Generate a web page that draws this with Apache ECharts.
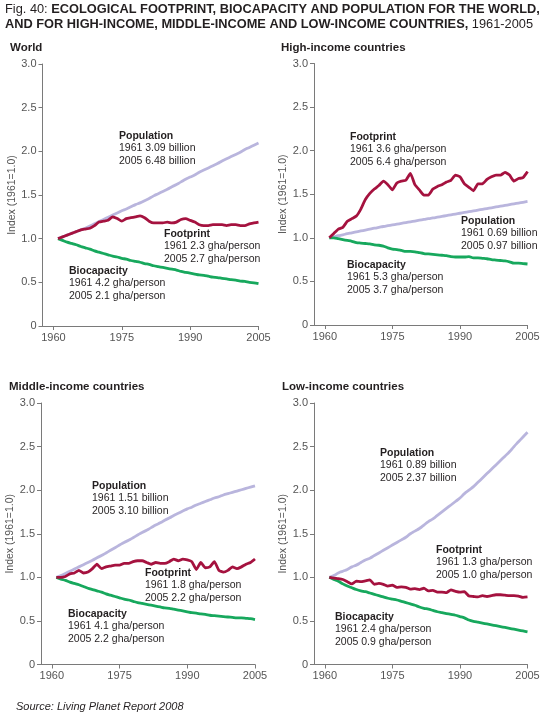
<!DOCTYPE html>
<html>
<head>
<meta charset="utf-8">
<title>Ecological footprint, biocapacity and population</title>
<script src="https://cdn.jsdelivr.net/npm/echarts@6.0.0/dist/echarts.min.js"></script>
<style>
  html, body { margin: 0; padding: 0; background: #fff; }
  #chart { width: 550px; height: 718px; }
</style>
</head>
<body>
<div id="chart"></div>
<script>
// years 1961-2005, one value per year in every series
var years = [];
for (var yr = 1961; yr <= 2005; yr++) years.push(yr);
var xTicks = [1960, 1975, 1990, 2005];

// World
var worldPopulation = [1.00, 1.02, 1.04, 1.06, 1.08, 1.10, 1.12, 1.145, 1.17, 1.195,
  1.22, 1.245, 1.27, 1.295, 1.32, 1.34, 1.365, 1.39, 1.41, 1.435,
  1.46, 1.49, 1.515, 1.54, 1.565, 1.595, 1.62, 1.65, 1.68, 1.705,
  1.73, 1.76, 1.785, 1.81, 1.835, 1.86, 1.89, 1.915, 1.94, 1.965,
  1.99, 2.02, 2.045, 2.07, 2.095];
var worldFootprint = [1.00, 1.02, 1.04, 1.06, 1.08, 1.10, 1.11, 1.12, 1.15, 1.19,
  1.20, 1.21, 1.25, 1.23, 1.20, 1.23, 1.24, 1.25, 1.26, 1.24,
  1.20, 1.18, 1.18, 1.18, 1.19, 1.18, 1.19, 1.22, 1.23, 1.21,
  1.19, 1.16, 1.15, 1.15, 1.16, 1.16, 1.16, 1.15, 1.16, 1.16,
  1.15, 1.15, 1.17, 1.18, 1.19];
var worldBiocapacity = [1.00, 0.98, 0.96, 0.945, 0.93, 0.91, 0.895, 0.88, 0.86, 0.845,
  0.83, 0.815, 0.80, 0.79, 0.775, 0.765, 0.75, 0.74, 0.73, 0.715,
  0.705, 0.69, 0.68, 0.67, 0.66, 0.65, 0.64, 0.625, 0.615, 0.605,
  0.595, 0.585, 0.58, 0.57, 0.56, 0.555, 0.545, 0.54, 0.53, 0.525,
  0.515, 0.51, 0.50, 0.495, 0.485];

// High-income countries
var highPopulation = [1.00, 1.012, 1.024, 1.035, 1.047, 1.058, 1.069, 1.079, 1.089, 1.099,
  1.11, 1.12, 1.13, 1.139, 1.148, 1.157, 1.166, 1.175, 1.184, 1.193,
  1.202, 1.211, 1.22, 1.228, 1.237, 1.246, 1.255, 1.264, 1.273, 1.282,
  1.291, 1.30, 1.309, 1.318, 1.327, 1.336, 1.345, 1.354, 1.363, 1.372,
  1.381, 1.39, 1.399, 1.408, 1.417];
var highFootprint = [1.00, 1.05, 1.10, 1.12, 1.19, 1.22, 1.25, 1.33, 1.44, 1.51,
  1.56, 1.60, 1.65, 1.61, 1.55, 1.63, 1.65, 1.66, 1.74, 1.61,
  1.55, 1.49, 1.49, 1.56, 1.59, 1.61, 1.64, 1.66, 1.72, 1.70,
  1.62, 1.58, 1.54, 1.62, 1.62, 1.67, 1.70, 1.72, 1.72, 1.75,
  1.72, 1.65, 1.68, 1.69, 1.76];
var highBiocapacity = [1.00, 1.00, 0.99, 0.98, 0.97, 0.96, 0.945, 0.94, 0.935, 0.93,
  0.92, 0.915, 0.905, 0.885, 0.87, 0.865, 0.855, 0.845, 0.845, 0.84,
  0.83, 0.82, 0.815, 0.81, 0.805, 0.80, 0.795, 0.785, 0.78, 0.78,
  0.78, 0.785, 0.77, 0.77, 0.765, 0.76, 0.75, 0.745, 0.74, 0.735,
  0.725, 0.71, 0.71, 0.705, 0.70];

// Middle-income countries
var middlePopulation = [1.00, 1.02, 1.045, 1.07, 1.095, 1.12, 1.145, 1.17, 1.195, 1.225,
  1.25, 1.28, 1.31, 1.34, 1.37, 1.40, 1.425, 1.455, 1.485, 1.515,
  1.54, 1.57, 1.60, 1.625, 1.655, 1.68, 1.71, 1.735, 1.76, 1.785,
  1.805, 1.83, 1.85, 1.87, 1.89, 1.91, 1.925, 1.945, 1.96, 1.975,
  1.99, 2.005, 2.02, 2.035, 2.05];
var middleFootprint = [1.00, 1.00, 1.01, 1.04, 1.05, 1.08, 1.05, 1.06, 1.10, 1.15,
  1.10, 1.12, 1.13, 1.14, 1.14, 1.16, 1.16, 1.18, 1.19, 1.19,
  1.17, 1.15, 1.17, 1.16, 1.16, 1.18, 1.21, 1.19, 1.21, 1.20,
  1.18, 1.09, 1.17, 1.11, 1.12, 1.18, 1.08, 1.06, 1.08, 1.12,
  1.10, 1.12, 1.15, 1.17, 1.21];
var middleBiocapacity = [1.00, 0.98, 0.965, 0.945, 0.93, 0.915, 0.895, 0.875, 0.86, 0.845,
  0.83, 0.81, 0.795, 0.78, 0.765, 0.75, 0.74, 0.725, 0.71, 0.70,
  0.69, 0.68, 0.67, 0.66, 0.65, 0.645, 0.635, 0.625, 0.615, 0.605,
  0.595, 0.59, 0.58, 0.575, 0.565, 0.56, 0.555, 0.55, 0.545, 0.54,
  0.535, 0.535, 0.53, 0.525, 0.515];

// Low-income countries
var lowPopulation = [1.00, 1.02, 1.05, 1.07, 1.09, 1.12, 1.14, 1.17, 1.20, 1.22,
  1.25, 1.28, 1.31, 1.34, 1.37, 1.40, 1.43, 1.46, 1.50, 1.53,
  1.56, 1.60, 1.64, 1.67, 1.71, 1.75, 1.79, 1.83, 1.87, 1.91,
  1.96, 2.00, 2.04, 2.09, 2.14, 2.19, 2.24, 2.29, 2.34, 2.39,
  2.44, 2.50, 2.555, 2.61, 2.665];
var lowFootprint = [1.00, 0.99, 0.985, 0.975, 0.95, 0.925, 0.955, 0.95, 0.96, 0.97,
  0.92, 0.93, 0.92, 0.90, 0.91, 0.885, 0.89, 0.885, 0.865, 0.87,
  0.86, 0.875, 0.845, 0.85, 0.83, 0.83, 0.825, 0.855, 0.84, 0.83,
  0.835, 0.785, 0.78, 0.775, 0.79, 0.78, 0.79, 0.80, 0.80, 0.795,
  0.79, 0.79, 0.785, 0.77, 0.775];
var lowBiocapacity = [1.00, 0.975, 0.955, 0.925, 0.90, 0.88, 0.86, 0.845, 0.835, 0.82,
  0.805, 0.79, 0.775, 0.76, 0.75, 0.74, 0.725, 0.71, 0.695, 0.68,
  0.66, 0.645, 0.635, 0.62, 0.605, 0.595, 0.585, 0.575, 0.565, 0.55,
  0.535, 0.51, 0.495, 0.485, 0.475, 0.465, 0.455, 0.445, 0.435, 0.425,
  0.415, 0.405, 0.395, 0.385, 0.375];

var panelTitles = ['World', 'High-income countries', 'Middle-income countries', 'Low-income countries'];
// label text per panel: [name, 1961 line, 2005 line]
var worldNotes = [
  ['Population', '1961 3.09 billion', '2005 6.48 billion'],
  ['Footprint', '1961 2.3 gha/person', '2005 2.7 gha/person'],
  ['Biocapacity', '1961 4.2 gha/person', '2005 2.1 gha/person']];
var highNotes = [
  ['Population', '1961 0.69 billion', '2005 0.97 billion'],
  ['Footprint', '1961 3.6 gha/person', '2005 6.4 gha/person'],
  ['Biocapacity', '1961 5.3 gha/person', '2005 3.7 gha/person']];
var middleNotes = [
  ['Population', '1961 1.51 billion', '2005 3.10 billion'],
  ['Footprint', '1961 1.8 gha/person', '2005 2.2 gha/person'],
  ['Biocapacity', '1961 4.1 gha/person', '2005 2.2 gha/person']];
var lowNotes = [
  ['Population', '1961 0.89 billion', '2005 2.37 billion'],
  ['Footprint', '1961 1.3 gha/person', '2005 1.0 gha/person'],
  ['Biocapacity', '1961 2.4 gha/person', '2005 0.9 gha/person']];

var panels = [
  { title: panelTitles[0], pop: worldPopulation, foot: worldFootprint, bio: worldBiocapacity, notes: worldNotes,
    grid: { left: 42.5, top: 64, width: 216, height: 262 }, titlePos: [10, 49],
    notePos: [[119, 136], [164, 234], [69, 271]] },
  { title: panelTitles[1], pop: highPopulation, foot: highFootprint, bio: highBiocapacity, notes: highNotes,
    grid: { left: 314, top: 63.5, width: 213.5, height: 261.5 }, titlePos: [281, 49],
    notePos: [[461, 221], [350, 137], [347, 265]] },
  { title: panelTitles[2], pop: middlePopulation, foot: middleFootprint, bio: middleBiocapacity, notes: middleNotes,
    grid: { left: 41, top: 403, width: 214, height: 261.5 }, titlePos: [9, 388],
    notePos: [[92, 486], [145, 573], [68, 614]] },
  { title: panelTitles[3], pop: lowPopulation, foot: lowFootprint, bio: lowBiocapacity, notes: lowNotes,
    grid: { left: 314, top: 403, width: 213.5, height: 261.5 }, titlePos: [282, 388],
    notePos: [[380, 453], [436, 550], [335, 617]] }
];

var popColor = '#b9b5dd';
var footColor = '#a5123f';
var bioColor = '#17a85d';
var textColor = '#231f20';
var axisColor = '#7a7a7a';
var fontFamily = '"Liberation Sans", Arial, Helvetica, sans-serif';

function pairs(vals) {
  return vals.map(function (v, i) { return [years[i], v]; });
}

var grids = [], xAxes = [], yAxes = [], series = [], graphics = [];

panels.forEach(function (p, i) {
  grids.push({ left: p.grid.left, top: p.grid.top, width: p.grid.width, height: p.grid.height, containLabel: false, outerBoundsMode: 'none' });
  xAxes.push({
    type: 'value', gridIndex: i, min: 1957.6, max: 2005,
    splitLine: { show: false },
    axisLine: { lineStyle: { color: axisColor, width: 1 } },
    axisTick: { customValues: xTicks, length: 4, lineStyle: { color: axisColor } },
    axisLabel: { customValues: xTicks, color: '#555', fontSize: 11, fontFamily: fontFamily, margin: 6,
      formatter: function (v) { return String(v); } }
  });
  yAxes.push({
    type: 'value', gridIndex: i, min: 0, max: 3, interval: 0.5,
    name: 'Index (1961=1.0)', nameLocation: 'middle', nameGap: 25,
    nameTextStyle: { color: '#555', fontSize: 10.5, fontFamily: fontFamily },
    splitLine: { show: false },
    axisLine: { show: true, lineStyle: { color: axisColor, width: 1 } },
    axisTick: { show: true, length: 4, lineStyle: { color: axisColor } },
    axisLabel: { color: '#555', fontSize: 11, fontFamily: fontFamily, margin: 6,
      formatter: function (v) { return v === 0 ? '0' : v.toFixed(1); } }
  });
  [[p.pop, popColor, 'Population', 0.6], [p.bio, bioColor, 'Biocapacity', 0.3], [p.foot, footColor, 'Footprint', 0.15]].forEach(function (s) {
    series.push({
      type: 'line', name: s[2], xAxisIndex: i, yAxisIndex: i,
      data: pairs(s[0]), showSymbol: false, silent: true, smooth: s[3],
      lineStyle: { color: s[1], width: 2.8 }, itemStyle: { color: s[1] }
    });
  });

  graphics.push({
    type: 'text', left: p.titlePos[0], top: p.titlePos[1] - 7,
    style: { text: p.title, fill: textColor, font: 'bold 11.5px ' + fontFamily }
  });
  // order of notes: population, footprint, biocapacity
  p.notes.forEach(function (n, k) {
    graphics.push({
      type: 'text', x: p.notePos[k][0], y: p.notePos[k][1] - 6.25,
      style: {
        text: '{b|' + n[0] + '}\n' + n[1] + '\n' + n[2],
        fill: textColor, fontSize: 10.5, fontFamily: fontFamily, lineHeight: 12.5,
        verticalAlign: 'top',
        rich: { b: { fontWeight: 'bold', fontSize: 10.5, fontFamily: fontFamily, lineHeight: 12.5, fill: textColor } }
      }
    });
  });
});

graphics.push({
  type: 'text', x: 5, y: 1.5,
  style: {
    text: '{r|Fig. 40: }{b|ECOLOGICAL FOOTPRINT, BIOCAPACITY AND POPULATION FOR THE WORLD,}\n' +
      '{b|AND FOR HIGH-INCOME, MIDDLE-INCOME AND LOW-INCOME COUNTRIES,}{r| 1961-2005}',
    fill: textColor, verticalAlign: 'top',
    rich: {
      r: { fontSize: 12.8, fontFamily: fontFamily, lineHeight: 15, fill: textColor },
      b: { fontSize: 12.8, fontWeight: 'bold', fontFamily: fontFamily, lineHeight: 15, fill: textColor }
    }
  }
});
graphics.push({
  type: 'text', x: 16, y: 701,
  style: { text: 'Source: Living Planet Report 2008', fill: textColor,
    font: 'italic 11px ' + fontFamily, verticalAlign: 'top' }
});

var myChart = echarts.init(document.getElementById('chart'));
var option = {
  backgroundColor: '#fff',
  animation: false,
  grid: grids,
  xAxis: xAxes,
  yAxis: yAxes,
  series: series,
  graphic: graphics
};
option && myChart.setOption(option);
</script>
</body>
</html>
